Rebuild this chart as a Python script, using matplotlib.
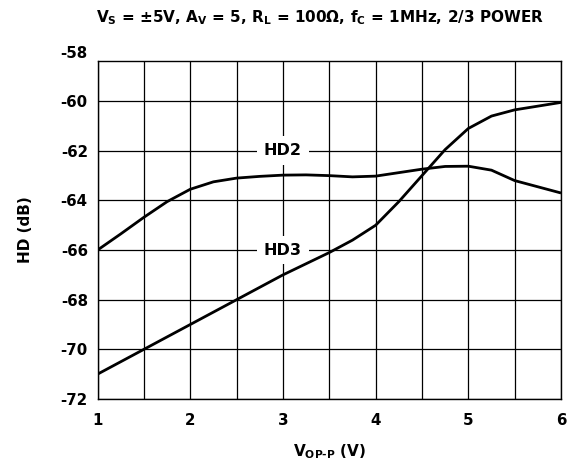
import matplotlib
matplotlib.use("Agg")
import matplotlib.pyplot as plt
import numpy as np

plt.rcParams['font.family'] = 'DejaVu Sans'
plt.rcParams['font.weight'] = 'bold'
plt.rcParams['mathtext.fontset'] = 'custom'
plt.rcParams['mathtext.rm'] = 'DejaVu Sans:bold'
plt.rcParams['mathtext.it'] = 'DejaVu Sans:bold'
plt.rcParams['mathtext.bf'] = 'DejaVu Sans:bold'
plt.rcParams['mathtext.default'] = 'rm'

# output swing (V p-p)
v_out = [1.0, 1.25, 1.5, 1.75, 2.0, 2.25, 2.5, 2.75, 3.0, 3.25, 3.5, 3.75,
         4.0, 4.25, 4.5, 4.75, 5.0, 5.25, 5.5, 5.75, 6.0]
# harmonic distortion (dB)
hd2 = [-66.0, -65.35, -64.68, -64.05, -63.55, -63.25, -63.1, -63.03, -62.98, -62.97, -63.0, -63.05,
       -63.02, -62.88, -62.74, -62.63, -62.62, -62.78, -63.2, -63.45, -63.7]
hd3 = [-71.0, -70.5, -70.0, -69.5, -69.0, -68.5, -68.0, -67.5, -67.0, -66.55, -66.1, -65.6,
       -65.0, -64.05, -63.0, -61.95, -61.1, -60.6, -60.35, -60.2, -60.05]

x_ticks = [1, 2, 3, 4, 5, 6]
y_ticks = [-72, -70, -68, -66, -64, -62, -60, -58]

fig = plt.figure(figsize=(5.76, 4.66), dpi=100)
ax = fig.add_axes([0.1693, 0.1438, 0.8047, 0.7259])

ax.plot(v_out, hd2, color='black', lw=2.0, solid_capstyle='butt', zorder=4)
ax.plot(v_out, hd3, color='black', lw=2.0, solid_capstyle='butt', zorder=4)

# top row of the grid is cut short, the -58 label sits just above the frame
ax.set_xlim(1, 6)
ax.set_ylim(-72, -58.37)
grid_x = np.arange(1, 6.01, 0.5)
ax.set_xticks(grid_x)
ax.set_xticklabels([str(int(v)) if v in x_ticks else '' for v in grid_x])
ax.set_yticks(y_ticks[:-1])
ax.set_yticklabels([str(v) for v in y_ticks[:-1]])
ax.tick_params(length=0, labelsize=10.8)
ax.tick_params(axis='y', pad=7)
ax.tick_params(axis='x', pad=10)
tr, va, ha = ax.get_yaxis_text1_transform(7)
ax.text(0, y_ticks[-1], str(y_ticks[-1]), transform=tr, va=va, ha=ha,
        fontsize=10.8, fontweight='bold', clip_on=False)

ax.grid(True, color='black', lw=0.9)
for s in ax.spines.values():
    s.set_linewidth(1.0)

box = dict(facecolor='white', edgecolor='none', pad=5)
ax.text(3.0, -62.0, 'HD2', ha='center', va='center', fontsize=11.5, fontweight='bold',
        bbox=box, zorder=3)
ax.text(3.0, -66.0, 'HD3', ha='center', va='center', fontsize=11.5, fontweight='bold',
        bbox=box, zorder=3)

ax.set_xlabel(r'V$_{\rm OP\text{-}P}$ (V)', fontsize=11, fontweight='bold')
ax.xaxis.set_label_coords(0.5, -0.127)
ax.set_ylabel('HD (dB)', fontsize=11, fontweight='bold')
ax.yaxis.set_label_coords(-0.139, 0.5)
fig.text(0.556, 0.953, r'V$_S$ = ±5V, A$_V$ = 5, R$_L$ = 100Ω, f$_C$ = 1MHz, 2/3 POWER',
         ha='center', va='baseline', fontsize=11, fontweight='bold')

fig.savefig('out.png', dpi=100)
